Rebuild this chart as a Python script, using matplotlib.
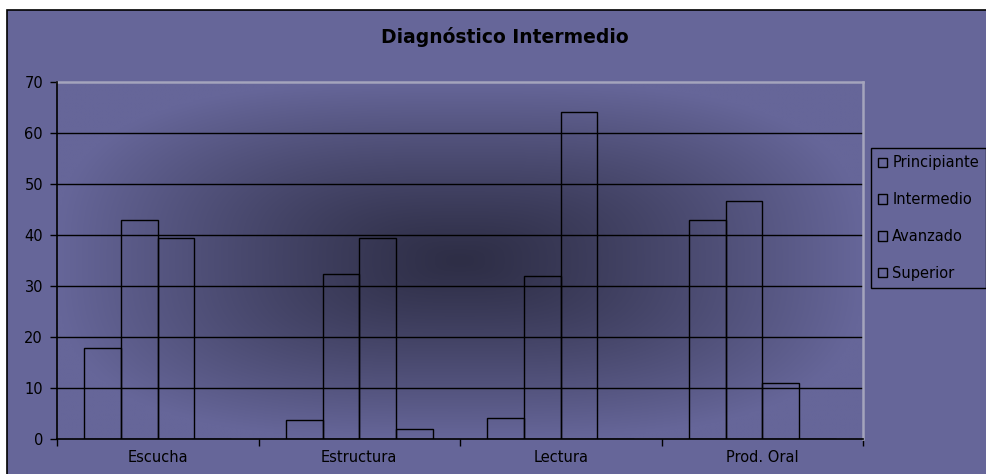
import matplotlib
matplotlib.use("Agg")
import matplotlib.pyplot as plt
import numpy as np
from matplotlib.patches import Rectangle

# values
categories = ["Escucha", "Estructura", "Lectura", "Prod. Oral"]
levels = ["Principiante", "Intermedio", "Avanzado", "Superior"]
principiante = [17.8, 3.6, 4.0, 43.0]
intermedio = [43.0, 32.3, 32.0, 46.6]
avanzado = [39.3, 39.4, 64.1, 10.9]
superior = [0.0, 2.0, 0.0, 0.0]
series = [principiante, intermedio, avanzado, superior]
yticks = [0, 10, 20, 30, 40, 50, 60, 70]

W, H = 987, 474
BG = "#666699"
DARK = np.array([46, 46, 70]) / 255.0
LIGHT = np.array([102, 102, 153]) / 255.0

plt.rcParams["font.family"] = ["DejaVu Sans"]

fig = plt.figure(figsize=(W / 100, H / 100), dpi=100, facecolor="white")

# chart area: filled panel with a black border, cut off at right/bottom
fig.patches.append(Rectangle((7 / W, -0.01), 1.0, 1 - 10 / H + 0.01,
                             transform=fig.transFigure, facecolor=BG,
                             edgecolor="black", lw=1.2, zorder=-5))

left, right, top, bottom = 57, 863, 82, 438.7
ax = fig.add_axes([left / W, (H - bottom) / H, (right - left) / W, (bottom - top) / H])
ax.set_facecolor(BG)

# "from centre" gradient of the plot area
u = np.linspace(-1, 1, 400)
v = np.linspace(-1, 1, 300)
U, V = np.meshgrid(u, v)
t = (np.abs(U) ** 3 + np.abs(V) ** 3) ** (1 / 3)
t = np.clip(t, 0, 1) ** 1.2
img = DARK[None, None, :] + (LIGHT - DARK)[None, None, :] * t[..., None]
ax.imshow(img, extent=[-0.5, 3.5, 0, 70], aspect="auto", zorder=0,
          interpolation="bilinear")

x = np.arange(len(categories))
bw = 0.182
for i, (name, vals) in enumerate(zip(levels, series)):
    ax.bar(x + (i - 1.5) * bw, vals, width=bw, facecolor="none",
           edgecolor="black", lw=1.0, label=name, zorder=3)

ax.set_xlim(-0.5, 3.5)
ax.set_ylim(0, 70)
for yv in yticks[1:-1]:
    ax.axhline(yv, color="black", lw=1.0, zorder=2)

ax.set_yticks(yticks)
ax.tick_params(axis="y", direction="out", length=5, width=1, pad=5,
               labelsize=10.5, colors="black")
ax.set_xticks([-0.5, 0.5, 1.5, 2.5, 3.5])
ax.set_xticklabels([])
ax.tick_params(axis="x", which="major", direction="out", length=5, width=1)
ax.set_xticks(x, minor=True)
ax.set_xticklabels(categories, minor=True, fontsize=10.5)
ax.tick_params(axis="x", which="minor", length=0, pad=8)

for s in ["left", "bottom"]:
    ax.spines[s].set_color("black")
    ax.spines[s].set_linewidth(1.2)
    ax.spines[s].set_zorder(4)
for s in ["top", "right"]:
    ax.spines[s].set_color("#a4a4bc")
    ax.spines[s].set_linewidth(1.8)

fig.text(505 / W, 1 - 37 / H, "Diagnóstico Intermedio", ha="center",
         va="center", fontsize=13.5, fontweight="bold", color="black")

leg = ax.legend(loc="upper left", bbox_to_anchor=(871 / W, 1 - 148 / H),
                bbox_transform=fig.transFigure, frameon=True, fancybox=False,
                fontsize=10.5, handlelength=0.6, handleheight=0.6,
                handletextpad=0.35, labelspacing=1.5, borderpad=0.5,
                borderaxespad=0)
leg.get_frame().set_facecolor(BG)
leg.get_frame().set_edgecolor("black")
leg.get_frame().set_linewidth(1.0)
leg.get_frame().set_alpha(1)

fig.savefig("out.png", dpi=100, facecolor="white")
